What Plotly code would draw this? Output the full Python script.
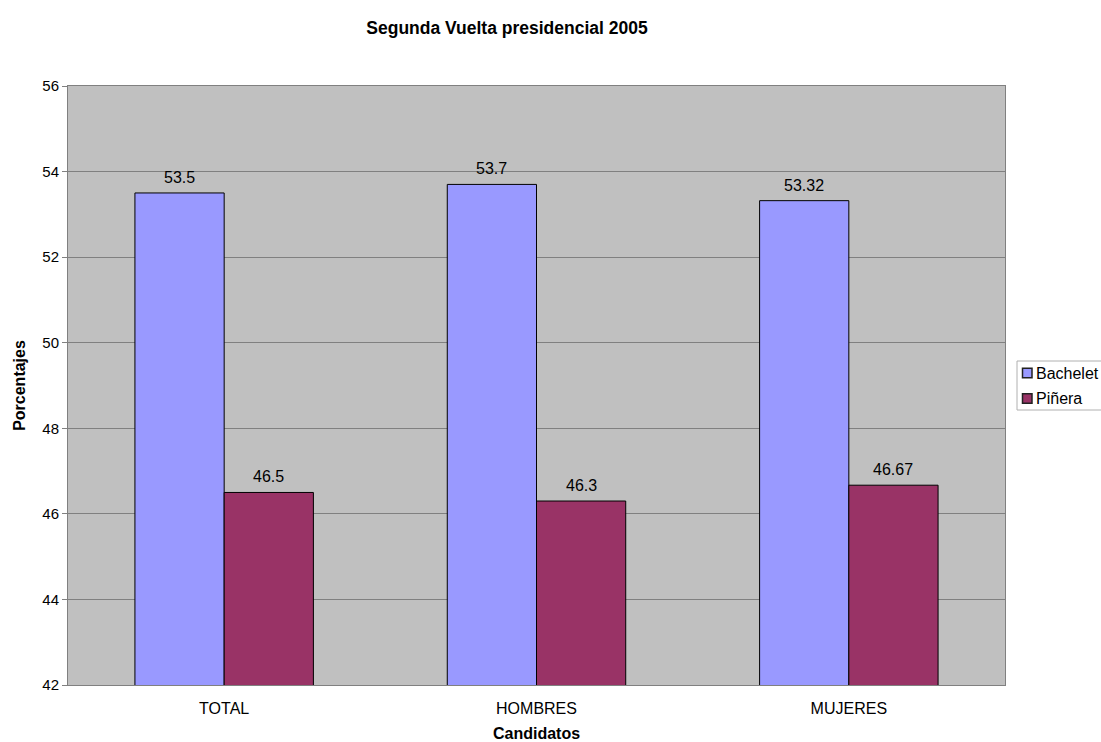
import plotly.graph_objects as go

categories = ["TOTAL", "HOMBRES", "MUJERES"]
bachelet = [53.5, 53.7, 53.32]
pinera = [46.5, 46.3, 46.67]
y_ticks = [42, 44, 46, 48, 50, 52, 54, 56]

series = [
    ("Bachelet", bachelet, "#9999FF"),
    ("Piñera", pinera, "#993366"),
]

FONT = "Liberation Sans, Arial, sans-serif"
W, H = 1101, 742
M_L, M_R, M_T, M_B = 68, 96, 86, 57
BARGAP = 0.4286
PLOT_W = W - M_L - M_R
PLOT_H = H - M_T - M_B


def px_x(px):
    return (px - M_L) / PLOT_W


def px_y(py):
    return (H - M_B - py) / PLOT_H


fig = go.Figure()
for name, vals, color in series:
    fig.add_trace(go.Bar(
        name=name, x=categories, y=vals,
        marker=dict(color=color, line=dict(color="#000000", width=1)),
        showlegend=False,
    ))

# value labels above each bar, centred on the bar within its group
bar_w = (1 - BARGAP) / len(series)
for s, (name, vals, color) in enumerate(series):
    off = -0.5 + BARGAP / 2 + bar_w * (s + 0.5)
    for i, v in enumerate(vals):
        fig.add_annotation(
            x=i + off, y=v, xref="x", yref="y", text=str(v),
            showarrow=False, yanchor="bottom", yshift=5,
            font=dict(family=FONT, size=16, color="#000000"),
        )

# legend box at the right of the plot area
fig.add_shape(type="rect", xref="paper", yref="paper",
              x0=px_x(1017), x1=px_x(1120), y0=px_y(410), y1=px_y(361),
              line=dict(color="#B0B0B0", width=1), fillcolor="#FFFFFF")
for s, (name, vals, color) in enumerate(series):
    cy = 373 + 25.5 * s
    fig.add_shape(type="rect", xref="paper", yref="paper",
                  x0=px_x(1022.5), x1=px_x(1032), y0=px_y(cy + 4.75), y1=px_y(cy - 4.75),
                  line=dict(color="#222222", width=1.5), fillcolor=color)
    fig.add_annotation(x=px_x(1034), y=px_y(cy), xref="paper", yref="paper",
                       text=name, showarrow=False, xanchor="left", yanchor="middle",
                       font=dict(family=FONT, size=16, color="#000000"))

fig.update_layout(
    width=W, height=H,
    barmode="group", bargap=BARGAP, bargroupgap=0,
    paper_bgcolor="#FFFFFF", plot_bgcolor="#C0C0C0",
    margin=dict(l=M_L, r=M_R, t=M_T, b=M_B, autoexpand=False),
    title=dict(text="<b>Segunda Vuelta presidencial 2005</b>",
               x=0.4605, xanchor="center", y=0.963, yanchor="middle",
               font=dict(family=FONT, size=17.5, color="#000000")),
    font=dict(family=FONT, size=16, color="#000000"),
    showlegend=False,
)
fig.update_yaxes(
    range=[42, 56], tickvals=y_ticks, ticktext=[str(t) for t in y_ticks],
    showgrid=True, gridcolor="#808080", gridwidth=1,
    showline=True, linecolor="#808080", linewidth=1, mirror=True,
    ticks="outside", ticklen=5, tickcolor="#808080",
    tickfont=dict(family=FONT, size=15, color="#000000"),
    title=dict(text="<b>Porcentajes</b>", font=dict(family=FONT, size=16), standoff=12),
    zeroline=False,
)
fig.update_xaxes(
    showline=True, linecolor="#808080", linewidth=1, mirror=True,
    ticks="", ticklabelstandoff=9,
    tickfont=dict(family=FONT, size=16, color="#000000"),
    title=dict(text="<b>Candidatos</b>", font=dict(family=FONT, size=16), standoff=21),
)

fig.write_html("out.html")
